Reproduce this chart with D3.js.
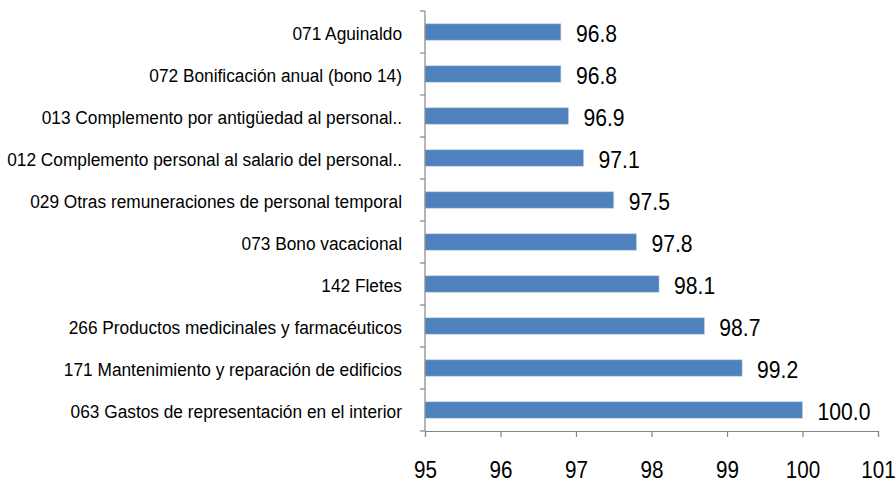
<!DOCTYPE html>
<html>
<head>
<meta charset="utf-8">
<script src="https://cdn.jsdelivr.net/npm/d3@7"></script>
<style>
  body { margin: 0; background: #fff; }
  text { font-family: "Liberation Sans", Arial, sans-serif; fill: #000; }
</style>
</head>
<body>
<div class="container"></div>
<script>
const categories = [
  "071 Aguinaldo",
  "072 Bonificación anual (bono 14)",
  "013 Complemento por antigüedad al personal..",
  "012 Complemento personal al salario del personal..",
  "029 Otras remuneraciones de personal temporal",
  "073 Bono vacacional",
  "142 Fletes",
  "266 Productos medicinales y farmacéuticos",
  "171 Mantenimiento y reparación de edificios",
  "063 Gastos de representación en el interior"
];
const values = [96.8, 96.8, 96.9, 97.1, 97.5, 97.8, 98.1, 98.7, 99.2, 100.0];
const xTicks = [95, 96, 97, 98, 99, 100, 101];

const width = 896;
const height = 482;
const plotLeft = 425, plotRight = 878, plotTop = 11, plotBottom = 431;

const svg = d3.select(".container").append("svg")
  .attr("width", width)
  .attr("height", height);

const xScale = d3.scaleLinear().domain([95, 101]).range([plotLeft, plotRight]);
const yScale = d3.scaleBand().domain(categories).range([plotTop, plotBottom]).paddingInner(0.61).paddingOuter(0.305);

// bars
svg.selectAll("rect.bar")
  .data(values)
  .enter()
  .append("rect")
  .attr("class", "bar")
  .attr("x", xScale(95))
  .attr("y", (d, i) => yScale(categories[i]))
  .attr("width", d => xScale(d) - xScale(95))
  .attr("height", yScale.bandwidth())
  .attr("fill", "#4f81bd")
  .attr("stroke", "#b9cde5")
  .attr("stroke-width", 0.6);

// value labels
svg.selectAll("text.val")
  .data(values)
  .enter()
  .append("text")
  .attr("class", "val")
  .attr("transform", (d, i) => `translate(${xScale(d) + 15},${yScale(categories[i]) + yScale.bandwidth() / 2}) scale(0.92,1)`)
  .attr("dy", "0.42em")
  .style("font-size", "23px")
  .text(d => d.toFixed(1));

// y axis: line + ticks at band boundaries
const boundaries = d3.range(categories.length + 1).map(i => plotTop + i * (plotBottom - plotTop) / categories.length);
const yAx = svg.append("g").attr("id", "y-axis");
yAx.append("line")
  .attr("x1", plotLeft).attr("x2", plotLeft)
  .attr("y1", plotTop).attr("y2", plotBottom)
  .attr("stroke", "#868686").attr("stroke-width", 1.2);
yAx.selectAll("line.tick")
  .data(boundaries)
  .enter()
  .append("line")
  .attr("class", "tick")
  .attr("x1", plotLeft - 5).attr("x2", plotLeft)
  .attr("y1", d => d).attr("y2", d => d)
  .attr("stroke", "#868686").attr("stroke-width", 1.2);

yAx.selectAll("text")
  .data(categories)
  .enter()
  .append("text")
  .attr("text-anchor", "end")
  .attr("transform", d => `translate(${plotLeft - 23},${yScale(d) + yScale.bandwidth() / 2}) scale(0.91,1)`)
  .attr("dy", "0.4em")
  .style("font-size", "19px")
  .text(d => d);

// x axis
const xAxis = d3.axisBottom(xScale).tickValues(xTicks).tickSize(6).tickFormat(d3.format("d"));
const xg = svg.append("g")
  .attr("id", "x-axis")
  .attr("transform", `translate(0,${plotBottom})`)
  .call(xAxis);
xg.select(".domain").attr("stroke", "#868686").attr("stroke-width", 1.2);
xg.selectAll(".tick line").attr("stroke", "#868686").attr("stroke-width", 1.2);
xg.selectAll(".tick text")
  .attr("y", 0)
  .attr("dy", "0")
  .attr("transform", "translate(0,47) scale(0.86,1)")
  .style("font-size", "24px")
  .style("font-family", "Liberation Sans, Arial, sans-serif")
  .attr("fill", "#000");
</script>
</body>
</html>
